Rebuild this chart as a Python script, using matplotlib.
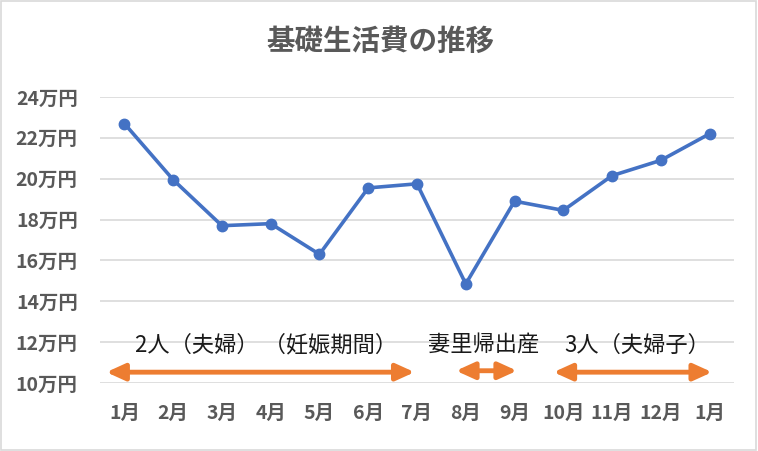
import matplotlib
matplotlib.use("Agg")
import matplotlib.pyplot as plt
from matplotlib.patches import Rectangle

plt.rcParams['font.family'] = ['Noto Sans CJK JP', 'DejaVu Sans']

title = "基礎生活費の推移"
months = ["1月", "2月", "3月", "4月", "5月", "6月", "7月", "8月", "9月", "10月", "11月", "12月", "1月"]
values = [22.7, 19.95, 17.7, 17.8, 16.3, 19.55, 19.75, 14.85, 18.9, 18.45, 20.15, 20.9, 22.2]
yticks = [10, 12, 14, 16, 18, 20, 22, 24]
ytick_labels = [f"{v}万円" for v in yticks]

# annotation periods: (label, label x center, arrow start, arrow end)
period_labels = ["2人（夫婦） （妊娠期間）", "妻里帰出産", "3人（夫婦子）"]
label_x = [2.91, 7.36, 10.51]
arrow_start = [-0.37, 6.8, 8.8]
arrow_end = [5.95, 8.05, 12.05]
arrow_y = [10.53, 10.6, 10.53]
label_y = 11.86

fig = plt.figure(figsize=(7.58, 4.51), dpi=100)
fig.patch.set_facecolor("white")
ax = fig.add_axes([100/758, (451-383)/451, 634/758, 286/451])

x = list(range(len(months)))
ax.plot(x, values, color="#4472C4", lw=2.6, marker="o", markersize=7.5, zorder=3)

ax.set_xlim(-0.5, len(months) - 0.5)
ax.set_ylim(10, 24)
ax.set_yticks(yticks)
ax.set_yticklabels(ytick_labels)
ax.set_xticks(x)
ax.set_xticklabels(months)
ax.grid(axis="y", color="#D9D9D9", lw=1.2)
ax.set_axisbelow(True)
for s in ax.spines.values():
    s.set_visible(False)
ax.tick_params(axis="both", length=0, colors="#595959", labelsize=14)
ax.tick_params(axis="y", pad=16)
ax.tick_params(axis="x", pad=15)
for lbl in ax.get_xticklabels() + ax.get_yticklabels():
    lbl.set_fontweight("bold")

for lab, lx in zip(period_labels, label_x):
    ax.text(lx, label_y, lab, ha="center", va="center", fontsize=16, color="#1a1a1a")

for a0, a1, ay in zip(arrow_start, arrow_end, arrow_y):
    ax.annotate("", xy=(a1, ay), xytext=(a0, ay),
                arrowprops=dict(arrowstyle="<|-|>,head_length=1.1,head_width=0.5",
                                color="#ED7D31", lw=3.5, shrinkA=0, shrinkB=0,
                                mutation_scale=10),
                annotation_clip=False)

fig.text(380/758, 1 - 42/451, title, ha="center", va="center", fontsize=20.5,
         color="#595959", fontweight="bold")

fig.patches.append(Rectangle((0.001, 0.002), 0.996, 0.995, transform=fig.transFigure,
                             fill=False, edgecolor="#D9D9D9", lw=1.2))

fig.savefig("out.png", dpi=100)
